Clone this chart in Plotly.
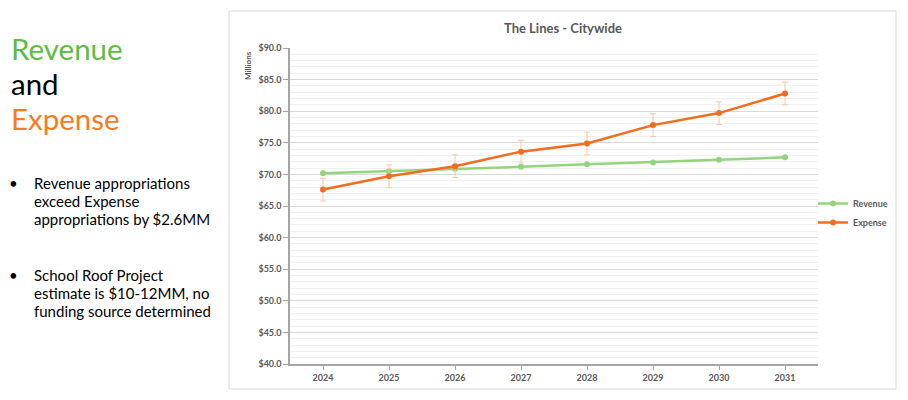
import plotly.graph_objects as go

years = ["2024", "2025", "2026", "2027", "2028", "2029", "2030", "2031"]
revenue = [70.2, 70.5, 70.9, 71.2, 71.6, 71.9, 72.3, 72.7]
expense = [67.6, 69.7, 71.3, 73.6, 74.9, 77.8, 79.7, 82.8]
expense_err = [1.8, 1.8, 1.8, 1.8, 1.8, 1.8, 1.8, 1.8]

bullet1 = ["Revenue appropriations", "exceed Expense", "appropriations by $2.6MM"]
bullet2 = ["School Roof Project", "estimate is $10-12MM, no", "funding source determined"]

W, H = 908, 400
PL, PR, PT, PB = 290, 818, 48, 364          # plot area in page pixels
ML, MR, MT, MB = PL, W - PR, PT, H - PB
PW, PH = PR - PL, PB - PT

def px(x):
    return (x - PL) / PW

def py(y):
    return (PB - y) / PH

FONT = "Lato"
GREEN = "#94D47E"
ORANGE = "#F36C1F"
TXT = "#595959"

fig = go.Figure()
fig.add_trace(go.Scatter(
    x=years, y=revenue, name="Revenue", mode="lines+markers",
    line=dict(color=GREEN, width=2.5), marker=dict(color=GREEN, size=6)))
fig.add_trace(go.Scatter(
    x=years, y=expense, name="Expense", mode="lines+markers",
    line=dict(color=ORANGE, width=2.5), marker=dict(color=ORANGE, size=6),
    error_y=dict(type="data", array=expense_err, visible=True,
                 color="#F9C6A6", thickness=1, width=3)))

fig.update_layout(
    width=W, height=H, autosize=False,
    margin=dict(l=ML, r=MR, t=MT, b=MB, pad=0),
    paper_bgcolor="white", plot_bgcolor="white",
    font=dict(family=FONT, color=TXT, size=9),
    showlegend=True,
    legend=dict(x=px(813), y=py(189), xanchor="left", yanchor="top",
                font=dict(size=9, color=TXT, family=FONT, weight="bold"),
                bgcolor="rgba(0,0,0,0)", itemwidth=30, tracegroupgap=0),
)

fig.update_xaxes(
    type="category", range=[-0.5, 7.5], showgrid=False,
    showline=True, linecolor="#A6A6A6", linewidth=1.5,
    ticks="outside", ticklen=4, tickcolor="#A6A6A6",
    tickfont=dict(size=9, color=TXT, family=FONT, weight="bold"),
    zeroline=False, fixedrange=True)

fig.update_yaxes(
    range=[40, 90], dtick=5, tick0=40, tickprefix="$", tickformat=".1f",
    showgrid=True, gridcolor="#D9D9D9", gridwidth=1,
    minor=dict(dtick=1, showgrid=True, gridcolor="#F0F0F0", gridwidth=1),
    showline=True, linecolor="#A6A6A6", linewidth=1.5,
    ticks="outside", ticklen=5, tickcolor="#A6A6A6",
    tickfont=dict(size=9, color=TXT, family=FONT, weight="bold"),
    zeroline=False, fixedrange=True)

# chart frame
fig.add_shape(type="rect", xref="paper", yref="paper",
              x0=px(229), x1=px(896), y0=py(389), y1=py(11),
              line=dict(color="#D9D9D9", width=1), fillcolor="rgba(0,0,0,0)",
              layer="below")

ann = []
ann.append(dict(text="<b>The Lines - Citywide</b>", x=px(563), y=py(28),
                font=dict(size=13, color=TXT, family=FONT)))
ann.append(dict(text="<b>Millions</b>", x=px(248), y=py(66), textangle=-90,
                font=dict(size=8, color=TXT, family=FONT)))
ann.append(dict(text="Revenue", x=px(9), y=py(48), xanchor="left",
                font=dict(size=29.5, color="#5DBB46", family=FONT)))
ann.append(dict(text="and", x=px(9), y=py(83), xanchor="left",
                font=dict(size=29.5, color="#000000", family=FONT)))
ann.append(dict(text="Expense", x=px(9), y=py(119), xanchor="left",
                font=dict(size=29.5, color="#F97A1F", family=FONT)))
for top, lines in ((183, bullet1), (275, bullet2)):
    ann.append(dict(text="•", x=px(7), y=py(top), xanchor="left",
                    font=dict(size=15, color="#000000", family=FONT)))
    for i, line in enumerate(lines):
        ann.append(dict(text=line, x=px(32), y=py(top + 18 * i), xanchor="left",
                        font=dict(size=15, color="#000000", family=FONT)))
for a in ann:
    a.update(xref="paper", yref="paper", showarrow=False)
    a.setdefault("xanchor", "center")
    a.setdefault("yanchor", "middle")
fig.update_layout(annotations=ann)

fig.write_html("out.html",
               config={"displayModeBar": False},
               post_script="document.body.style.margin='0px';"
                           "document.body.style.overflow='hidden';")
